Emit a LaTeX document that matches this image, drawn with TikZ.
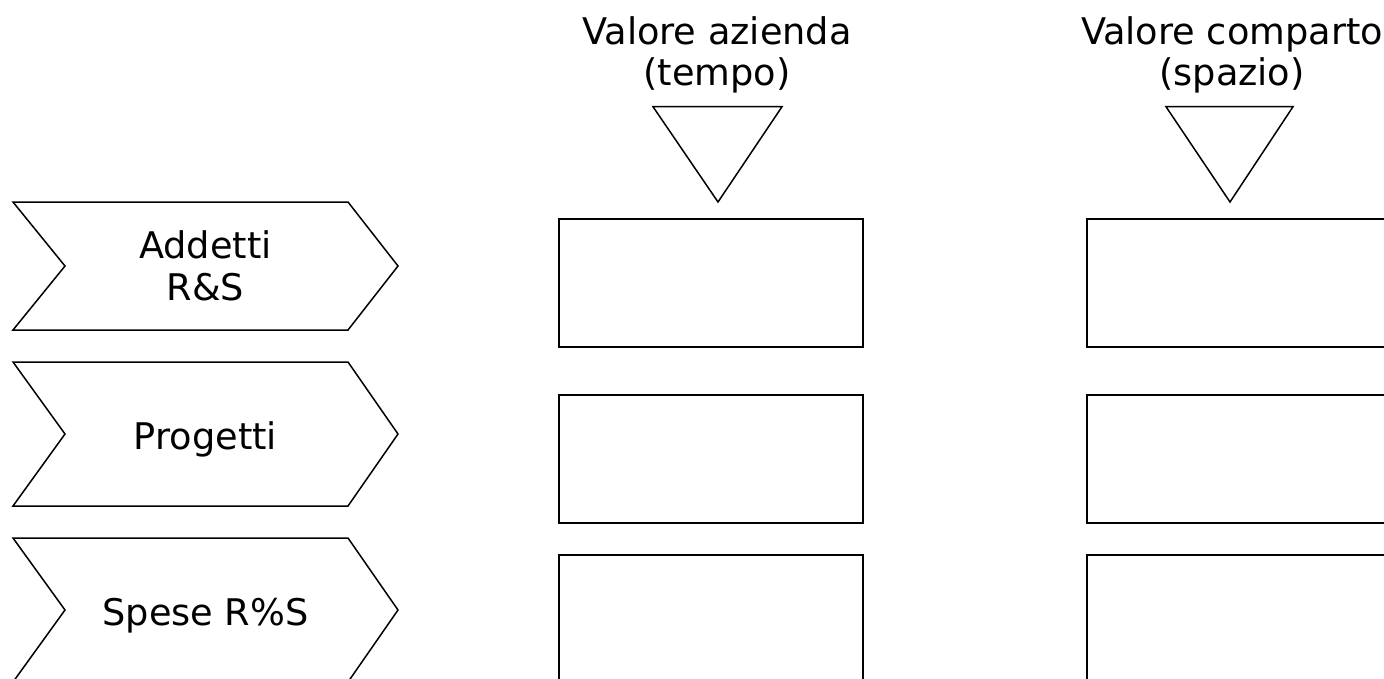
\documentclass[tikz,border=0pt]{standalone}
\usepackage{fontspec}
\setmainfont{DejaVu Sans}
\begin{document}
\begin{tikzpicture}[x=1pt,y=-1pt,
  lbl/.style={font=\fontsize{36.7}{41.5}\selectfont, inner sep=0pt, align=center},
  outline/.style={draw=black, line width=1.5pt, line join=miter},
  cell/.style={draw=black, line width=2pt, rectangle, inner sep=0pt,
    minimum width=304pt, minimum height=128pt, anchor=north west}]
\useasboundingbox (0,0) rectangle (1384,678);
\clip (0,0) rectangle (1384,678);
% row chevrons
\draw[outline] (13,202) -- (348,202) -- (398,266) -- (348,330) -- (13,330) -- (65,266) -- cycle;
\draw[outline] (13,362) -- (348,362) -- (398,434) -- (348,506) -- (13,506) -- (65,434) -- cycle;
\draw[outline] (13,538) -- (348,538) -- (398,610) -- (348,682) -- (13,682) -- (65,610) -- cycle;
\node[lbl, anchor=north] (c1) at (205.5,230.5) {Addetti\\R\&S};
\node[lbl, anchor=base] (c2) at (205.5,449) {Progetti};
\node[lbl, anchor=base] (c3) at (205.5,625) {Spese R\%S};
% column headers
\node[lbl, anchor=north] (h1) at (717,16) {Valore azienda\\(tempo)};
\node[lbl, anchor=north] (h2) at (1232,16) {Valore comparto\\(spazio)};
\draw[outline] (653,106.7) -- (782,106.7) -- (718,202) -- cycle;
\draw[outline] (1166,106.7) -- (1293,106.7) -- (1230,202) -- cycle;
% cells
\node[cell] (a1) at (558,218) {};
\node[cell] (a2) at (558,394) {};
\node[cell] (a3) at (558,554) {};
\node[cell] (b1) at (1086,218) {};
\node[cell] (b2) at (1086,394) {};
\node[cell] (b3) at (1086,554) {};
\end{tikzpicture}
\end{document}
